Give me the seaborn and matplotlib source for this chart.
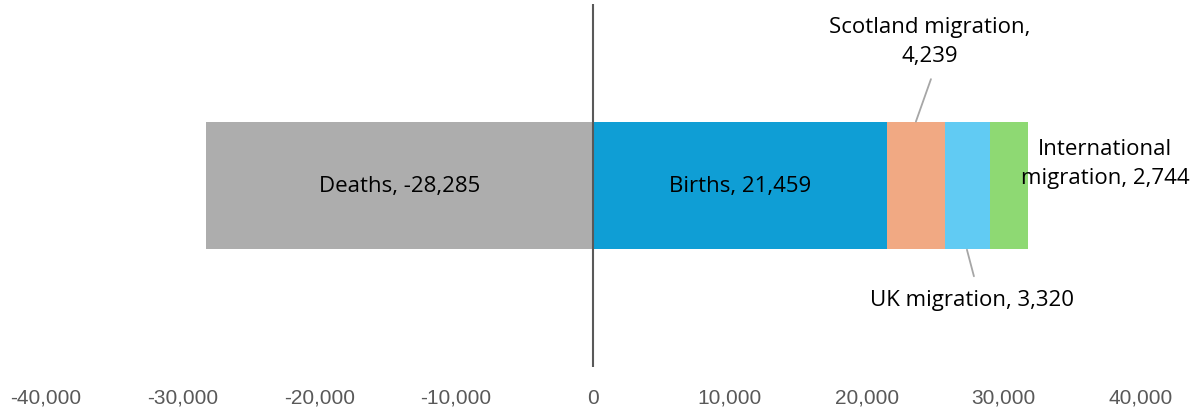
import matplotlib
matplotlib.use("Agg")
import matplotlib.pyplot as plt
import matplotlib.ticker as mticker
import seaborn as sns

# components of population change
categories = ["Deaths", "Births", "Scotland migration", "UK migration", "International migration"]
values = [-28285, 21459, 4239, 3320, 2744]
colors = ["#ADADAD", "#0F9ED5", "#F1A983", "#61CBF3", "#8ED973"]
ticks = [-40000, -30000, -20000, -10000, 0, 10000, 20000, 30000, 40000]

sns.set_theme(style="white")
plt.rcParams["font.family"] = ["Open Sans", "DejaVu Sans"]

fig = plt.figure(figsize=(12.01, 4.14), dpi=100)
ax = fig.add_axes([45.5 / 1201, 1 - 368 / 414, (1140.5 - 45.5) / 1201, 363 / 414])

# stacked positive parts: draw cumulative totals, largest first
pos_vals = values[1:]
pos_cols = colors[1:]
cum = []
run = 0
for v in pos_vals:
    run += v
    cum.append(run)
for c, col in reversed(list(zip(cum, pos_cols))):
    sns.barplot(x=[c], y=["net"], color=col, saturation=1, width=0.3526, ax=ax, linewidth=0)
sns.barplot(x=[values[0]], y=["net"], color=colors[0], saturation=1, width=0.3526, ax=ax, linewidth=0)

ax.axvline(0, color="#595959", lw=1.5, zorder=5)

ax.set_xlim(-40000, 40000)
ax.set_ylim(0.5, -0.5)
ax.set_xticks(ticks)
ax.xaxis.set_major_formatter(mticker.FuncFormatter(lambda v, p: f"{int(v):,}"))
ax.tick_params(axis="x", colors="#595959", labelsize=15, length=0, pad=15)
for t in ax.get_xticklabels():
    t.set_fontfamily(["Liberation Sans", "DejaVu Sans"])
ax.set_yticks([])
ax.set_xlabel("")
ax.set_ylabel("")
for s in ax.spines.values():
    s.set_visible(False)

lab_kw = dict(fontsize=16, color="black", ha="center", va="center")
# in-bar labels
ax.text(values[0] / 2, 0.0, f"{categories[0]}, {values[0]:,}", **lab_kw)
ax.text(values[1] / 2, 0.0, f"{categories[1]}, {values[1]:,}", **lab_kw)

line_kw = dict(arrowstyle="-", color="#A6A6A6", lw=1.3, shrinkA=0, shrinkB=0)
# Scotland
ax.annotate("", xy=(23590, -0.176), xytext=(24690, -0.293), arrowprops=line_kw)
ax.text(24620, -0.398, f"{categories[2]},\n{values[2]:,}", linespacing=1.5, **lab_kw)
# UK
ax.annotate("", xy=(27320, 0.177), xytext=(27830, 0.25), arrowprops=line_kw)
ax.text(27680, 0.313, f"{categories[3]}, {values[3]:,}", **lab_kw)
# International
ax.text(37400, -0.062, f"International\nmigration, {values[4]:,}", linespacing=1.55, **lab_kw)

fig.savefig("out.png", dpi=100)
